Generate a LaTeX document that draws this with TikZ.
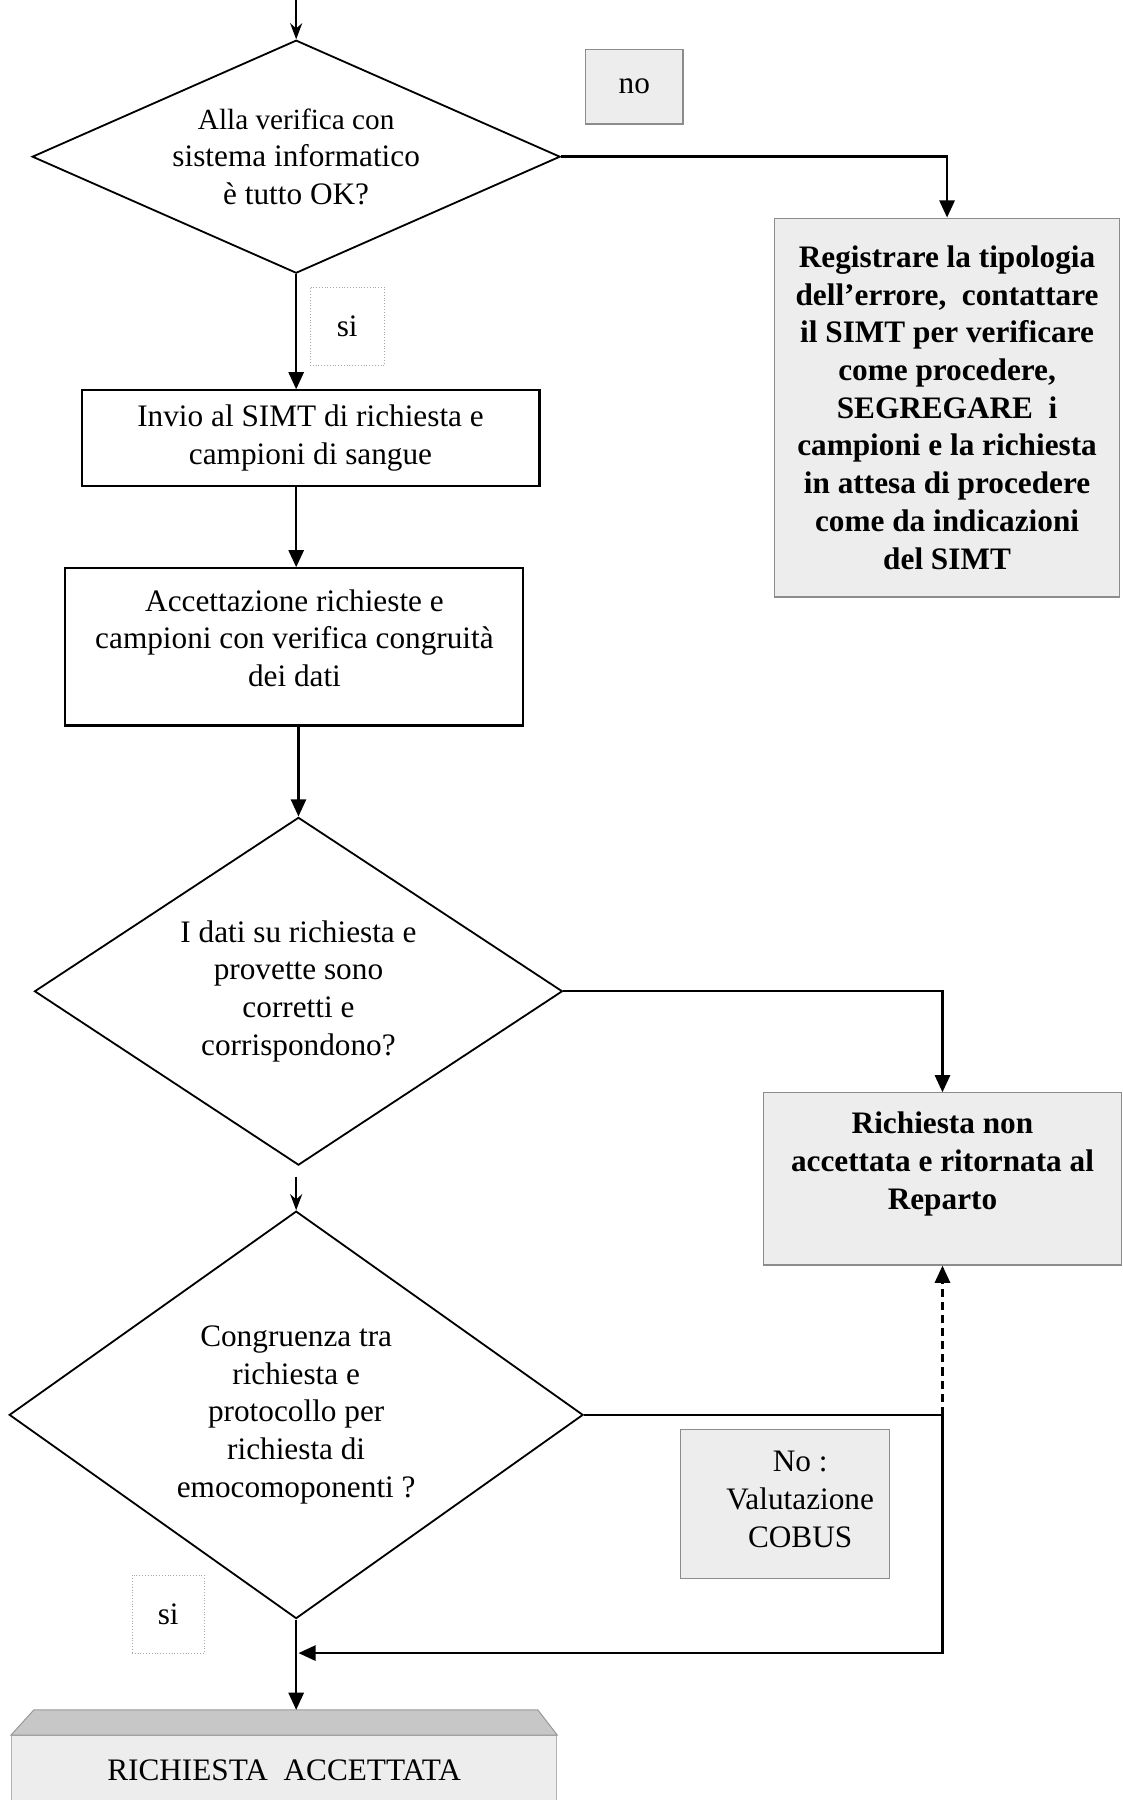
\documentclass[tikz,border=0pt]{standalone}
\usepackage{fontspec}
\setmainfont{Liberation Serif}
\usetikzlibrary{shapes.geometric,arrows.meta}

\newcommand{\flowfont}{\fontsize{15.5}{18.7}\selectfont}

\begin{document}
\begin{tikzpicture}[
    x=0.02cm, y=-0.02cm,
    every node/.style={font=\flowfont},
    box/.style={rectangle, draw, line width=1pt, align=center, inner sep=2pt},
    query/.style={diamond, draw, line width=0.9pt, align=center, inner sep=0pt},
    shaded/.style={rectangle, draw=black!45, fill=black!7, line width=0.6pt, align=center},
    tag/.style={rectangle, draw=black!35, densely dotted, inner sep=0pt},
    arrow/.style={line width=1.2pt,->,>={Triangle[length=8.5pt,width=7.5pt]}},
    thinarrow/.style={line width=0.8pt,->,>={Stealth[length=8pt,width=6pt]}}
]
    \useasboundingbox (0,0) rectangle (978,1568);

    % Decisions
    \node (d1) [query, minimum width=9.2cm, minimum height=4.06cm, aspect=2.27] at (258,136.5)
        {\fontsize{14.5}{17.2}\selectfont Alla verifica con\\sistema informatico\\è tutto OK?};
    \node (d2) [query, minimum width=9.2cm, minimum height=6.06cm, aspect=1.52] at (260,863.5)
        {I dati su richiesta e\\provette sono\\corretti e\\corrispondono?};
    \node (d3) [query, minimum width=10cm, minimum height=7.1cm, aspect=1.41] at (258,1232.5)
        {Congruenza tra\\richiesta e\\protocollo per\\richiesta di\\emocomoponenti ?};

    % Steps
    \node (inv) [box, minimum width=7.98cm, minimum height=1.66cm] at (270.5,381.5)
        {Invio al SIMT di richiesta e\\campioni di sangue};
    \node (check) [box, minimum width=7.98cm, minimum height=2.74cm,
        label={[align=center, yshift=0.15cm]center:Accettazione richieste e\\campioni con verifica congruità\\dei dati}] at (256.5,563.5) {};

    % Outcomes
    \node (reg) [shaded, font=\flowfont\bfseries, minimum width=6.02cm, minimum height=6.6cm] at (825,355)
        {Registrare la tipologia\\dell’errore,\ \ contattare\\il SIMT per verificare\\come procedere,\\SEGREGARE\ \ i\\campioni e la richiesta\\in attesa di procedere\\come da indicazioni\\del SIMT};
    \node (rna) [shaded, minimum width=6.24cm, minimum height=3cm,
        label={[align=center, font=\flowfont\bfseries, yshift=0.26cm]center:Richiesta non\\accettata e ritornata al\\Reparto}] at (821,1027) {};
    \node (cobus) [shaded, minimum width=3.64cm, minimum height=2.6cm,
        label={[align=center, xshift=0.26cm, yshift=0.08cm]center:No :\\Valutazione\\COBUS}] at (684,1310) {};
    \node (ok) [shaded, draw=black!30, minimum width=9.5cm, minimum height=1.2cm] at (247.5,1542)
        {RICHIESTA\ \ ACCETTATA};

    % Bevelled top of the final box
    \path (ok.north west) ++(20,-22) coordinate (roofL);
    \path (ok.north east) ++(-17,-22) coordinate (roofR);
    \draw[draw=black!40, fill=black!22, line width=0.5pt] (ok.north west) -- (roofL) -- (roofR) -- (ok.north east) -- cycle;

    % Answer tags
    \node (no) [shaded, minimum width=1.7cm, minimum height=1.3cm] at (552.5,75.5) {no};
    \node (si1) [tag, minimum width=1.3cm, minimum height=1.36cm] at (302.5,284) {si};
    \node (si2) [tag, minimum width=1.26cm, minimum height=1.36cm] at (146.5,1406) {si};

    % Flow
    \coordinate (in) at (258,0);
    \coordinate (gap) at (258,1025);
    \coordinate (merge) at (260,1440);

    \draw [thinarrow] (in) -- (d1.north);
    \draw [arrow] (d1.east) -| (reg.north);
    \draw [arrow] (d1.south) -- (d1.south |- inv.north);
    \draw [arrow] (d1.south |- inv.south) -- (d1.south |- check.north);
    \draw [arrow] (d2.north |- check.south) -- (d2.north);
    \draw [arrow] (d2.east) -| (rna.north);
    \draw [thinarrow] (gap) -- (d3.north);
    \draw [arrow] (d3.east) -| (rna.south |- merge) -- (merge);
    \draw [arrow, dash pattern=on 4pt off 2.5pt] (d3.east -| rna.south) -- (rna.south);
    \draw [arrow] (d3.south) -- (roofL -| d3.south);
\end{tikzpicture}
\end{document}
